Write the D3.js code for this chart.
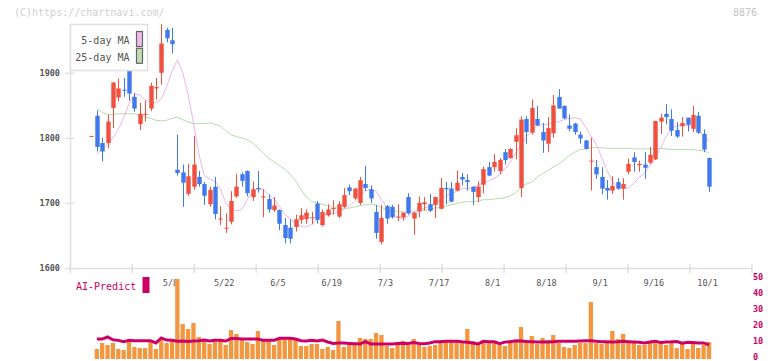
<!DOCTYPE html>
<html><head><meta charset="utf-8">
<script src="https://cdn.jsdelivr.net/npm/d3@7"></script>
<style>body{margin:0;background:#fff}svg{display:block}</style>
</head><body>
<script>
// ---- data ----
const openP  = [1802,1834,1792,1792,1846,1862,1874,1909,1863,1821,1836,1845,1876,1900,1966,1950,1751,1747,1714,1725,1740,1729,1698,1725,1675,1661,1671,1710,1744,1749,1709,1723,1709,1706,1689,1689,1666,1662,1663,1674,1675,1677,1699,1666,1681,1691,1679,1694,1724,1707,1700,1729,1721,1686,1640,1695,1694,1678,1678,1709,1676,1687,1698,1698,1697,1691,1723,1722,1719,1740,1735,1725,1709,1728,1755,1755,1749,1778,1769,1794,1723,1829,1808,1829,1809,1791,1807,1863,1849,1819,1822,1805,1796,1764,1755,1740,1723,1719,1732,1722,1748,1770,1758,1759,1762,1767,1825,1837,1829,1812,1818,1831,1814,1834,1806,1769];
const highP  = [1803,1842,1800,1836,1886,1891,1892,1913,1869,1854,1857,1885,1892,1975,1969,1969,1805,1759,1760,1803,1749,1732,1725,1740,1695,1684,1718,1745,1747,1750,1733,1749,1721,1713,1709,1690,1677,1675,1682,1692,1690,1686,1703,1690,1698,1704,1703,1723,1728,1723,1740,1757,1727,1697,1697,1697,1697,1698,1685,1715,1686,1710,1709,1714,1710,1738,1732,1732,1750,1746,1744,1725,1733,1756,1763,1775,1769,1783,1784,1815,1833,1833,1859,1849,1823,1832,1866,1875,1850,1836,1823,1810,1797,1800,1766,1755,1735,1741,1738,1738,1768,1778,1765,1778,1786,1826,1837,1852,1844,1824,1832,1831,1849,1840,1813,1770];
const lowP   = [1802,1779,1764,1784,1815,1856,1863,1857,1840,1812,1825,1841,1859,1882,1947,1930,1742,1694,1711,1720,1725,1697,1694,1675,1666,1654,1667,1708,1725,1710,1703,1716,1678,1685,1686,1658,1638,1638,1656,1668,1668,1667,1668,1664,1679,1682,1677,1692,1712,1705,1697,1718,1700,1645,1636,1668,1676,1672,1673,1682,1651,1678,1688,1686,1677,1690,1698,1701,1718,1727,1719,1697,1701,1715,1741,1748,1744,1759,1768,1767,1709,1791,1805,1818,1777,1778,1800,1845,1829,1810,1805,1791,1782,1719,1737,1713,1705,1714,1720,1705,1744,1748,1748,1737,1760,1766,1806,1821,1803,1800,1802,1810,1809,1806,1778,1717];
const closeP = [1803,1786,1779,1825,1885,1876,1873,1868,1845,1837,1837,1880,1878,1945,1953,1944,1746,1731,1741,1759,1729,1711,1720,1683,1676,1662,1703,1725,1734,1715,1721,1721,1710,1690,1696,1668,1646,1645,1675,1681,1685,1678,1674,1686,1690,1692,1698,1712,1718,1722,1735,1723,1707,1654,1677,1676,1678,1679,1685,1684,1685,1700,1701,1688,1709,1723,1721,1702,1731,1736,1732,1717,1725,1752,1742,1763,1766,1766,1783,1804,1828,1809,1846,1819,1796,1815,1850,1845,1830,1814,1809,1799,1783,1765,1744,1722,1719,1726,1722,1729,1760,1763,1760,1754,1774,1826,1831,1832,1811,1802,1823,1820,1835,1808,1782,1725];
const ma5 = [null,1775,1783,1790,1800,1813,1831,1853,1867,1866,1858,1855,1854,1860,1879,1902,1920,1900,1866,1823,1775,1742,1737,1733,1722,1700,1690,1688,1690,1705,1718,1722,1721,1713,1706,1695,1682,1676,1668,1664,1663,1667,1675,1681,1683,1684,1687,1690,1695,1702,1710,1719,1721,1718,1705,1693,1683,1678,1676,1680,1686,1689,1692,1695,1700,1705,1711,1714,1718,1722,1722,1724,1727,1731,1734,1738,1743,1752,1763,1777,1789,1802,1810,1819,1820,1821,1823,1825,1828,1830,1831,1829,1817,1803,1790,1770,1750,1733,1724,1722,1723,1730,1739,1746,1757,1769,1785,1802,1815,1818,1820,1819,1815,1810,1804,1795];
const ma25 = [null,1845,1839,1836,1836,1837,1837,1837,1837,1835,1832,1830,1827,1826,1827,1830,1832,1828,1824,1822,1822,1822,1823,1821,1818,1811,1805,1802,1800,1797,1792,1785,1776,1769,1763,1757,1752,1744,1734,1721,1709,1702,1700,1698,1696,1693,1692,1691,1692,1694,1696,1697,1698,1696,1693,1690,1688,1687,1686,1686,1687,1688,1689,1690,1692,1693,1695,1697,1699,1701,1702,1702,1703,1705,1705,1706,1707,1708,1711,1716,1724,1729,1732,1740,1745,1750,1755,1760,1766,1773,1778,1782,1783,1785,1785,1785,1784,1784,1784,1784,1784,1783,1783,1783,1783,1783,1784,1783,1782,1782,1782,1782,1782,1781,1780,1777];
const volume = [null,100,160,140,160,100,90,180,120,110,110,170,100,190,160,200,800,350,300,360,220,190,150,170,180,140,290,250,190,170,150,280,200,190,140,210,210,220,200,130,130,150,150,100,120,90,380,120,140,140,210,200,200,260,240,130,110,140,180,140,200,140,120,130,140,190,190,170,170,170,300,180,140,190,170,160,140,130,160,180,320,190,230,150,210,190,240,160,120,110,140,160,160,570,160,150,160,280,200,250,170,170,140,140,170,170,160,140,160,110,160,100,160,110,140,170];
const aiPredict = [null,11.2,11.2,12.5,10.8,10.4,9.6,10.4,10.2,10.2,10.2,10.2,8.8,11.9,10.6,10.4,9.8,10.0,9.7,10.0,10.2,10.6,10.0,10.5,10.4,10.0,11.5,11.5,11.2,11.2,11.2,11.2,10.4,10.4,10.4,11.7,11.7,11.7,11.2,10.2,10.0,10.4,10.0,10.6,9.4,8.5,8.7,8.7,8.5,8.3,8.1,9.6,8.2,8.2,8.2,8.2,8.2,8.4,8.6,8.5,9.0,8.5,8.3,8.8,9.6,9.6,9.8,9.8,9.9,9.5,9.2,8.7,8.2,9.8,9.6,9.5,8.3,9.3,9.6,10.2,10.0,9.7,9.6,9.4,9.4,9.4,9.6,9.8,9.8,9.8,9.8,10.0,10.2,10.2,9.8,9.6,9.5,9.4,9.5,9.8,9.6,9.4,9.2,8.8,9.4,9.9,9.0,9.4,9.5,9.7,8.6,9.2,9.0,8.8,8.8,7.6];
const dateLabels = ["5/8","5/22","6/5","6/19","7/3","7/17","8/1","8/18","9/1","9/16","10/1"];
const dateLabelIdx = [15,25,35,45,55,65,75,85,95,105,115];
const priceTicks = [1600,1700,1800,1900];
const aiTicks = [0,10,20,30,40,50];

// ---- chart ----
const W=772,H=361;
const svg=d3.select("body").append("svg").attr("width",W).attr("height",H);
const mono="'DejaVu Sans Mono','Liberation Mono',monospace";
const UP="#f0503f", DOWN="#4079ee";

const x=d3.scaleLinear().domain([-4,123]).range([70,752]);
const y=d3.scaleLinear().domain([1600,1975]).range([268,24]);
const yv=d3.scaleLinear().domain([0,800]).range([359,279]);
const ya=d3.scaleLinear().domain([0,50]).range([357,277]);
const xDiv=d3.scaleLinear().domain([0,11]).range([70.3,752]);

// watermark
svg.append("text").attr("x",14).attr("y",16).attr("font-family",mono).attr("font-size",10)
  .attr("fill","#cfcfcf").text("(C)https://chartnavi.com/");
svg.append("text").attr("x",757).attr("y",16).attr("text-anchor","end").attr("font-family",mono)
  .attr("font-size",10).attr("fill","#c4c4c4").text("8876");

// axes
const axisC="#e0e0e0";
svg.append("line").attr("x1",70.5).attr("x2",70.5).attr("y1",24).attr("y2",268).attr("stroke",axisC).attr("stroke-width",1.5);
svg.append("line").attr("x1",70).attr("x2",752).attr("y1",268.5).attr("y2",268.5).attr("stroke",axisC).attr("stroke-width",1.5);
svg.selectAll(".xt").data(d3.range(12)).join("line")
  .attr("x1",d=>xDiv(d)).attr("x2",d=>xDiv(d)).attr("y1",264).attr("y2",273)
  .attr("stroke",axisC).attr("stroke-width",1.5);
svg.selectAll(".yt").data(priceTicks).join("line")
  .attr("x1",65).attr("x2",74).attr("y1",d=>y(d)+0.5).attr("y2",d=>y(d)+0.5)
  .attr("stroke",axisC).attr("stroke-width",1.5);
svg.selectAll(".yl").data(priceTicks).join("text")
  .attr("x",60).attr("y",d=>y(d)).attr("dy","0.35em").attr("text-anchor","end")
  .attr("font-family",mono).attr("font-size",8.5).attr("font-weight","bold").attr("fill","#555")
  .text(d=>d);
svg.selectAll(".xl").data(dateLabels).join("text")
  .attr("x",(d,i)=>x(dateLabelIdx[i])-1.5).attr("y",286).attr("text-anchor","middle")
  .attr("font-family",mono).attr("font-size",8.5).attr("fill","#555").text(d=>d);

// MA lines
const idx=d3.range(openP.length);
const lineMA=arr=>d3.line().defined(i=>arr[i]!=null).x(i=>x(i)).y(i=>y(arr[i]));
svg.append("path").datum(idx).attr("d",lineMA(ma25)).attr("fill","none").attr("stroke","#b6dcaa").attr("stroke-width",1);
svg.append("path").datum(idx).attr("d",lineMA(ma5)).attr("fill","none").attr("stroke","#eab6ea").attr("stroke-width",1);

// candles
const bw=4.4;
const cg=svg.append("g");
idx.forEach(i=>{
  const up=closeP[i]>=openP[i], col=up?UP:DOWN;
  const cx=Math.round(x(i))+0.5;
  cg.append("line").attr("x1",cx).attr("x2",cx).attr("y1",y(highP[i])).attr("y2",y(lowP[i])).attr("stroke",col).attr("stroke-width",1);
  const top=y(Math.max(openP[i],closeP[i])), bot=y(Math.min(openP[i],closeP[i]));
  cg.append("rect").attr("x",cx-bw/2).attr("y",top).attr("width",bw).attr("height",Math.max(1,bot-top)).attr("fill",col);
});

// legend
const lg=svg.append("g");
lg.append("rect").attr("x",70.5).attr("y",24.5).attr("width",77).attr("height",46).attr("fill","#fff").attr("stroke","#e0e0e0").attr("stroke-width",1.5);
const legItems=[["5-day MA","#ecbcec",44],["25-day MA","#bcdeb2",61]];
legItems.forEach(([t,c,yy],k)=>{
  lg.append("text").attr("x",129.5).attr("y",yy).attr("text-anchor","end").attr("font-family",mono).attr("font-size",10).attr("fill","#555").text(t);
  lg.append("rect").attr("x",136.5).attr("y",31.5+k*16.8).attr("width",6).attr("height",15).attr("fill",c).attr("stroke","#666").attr("stroke-width",1.2);
});

// volume panel
svg.append("g").selectAll("rect").data(idx.filter(i=>volume[i]!=null)).join("rect")
  .attr("x",i=>x(i)-2.2).attr("width",4.3).attr("y",i=>yv(volume[i])).attr("height",i=>yv(0)-yv(volume[i]))
  .attr("fill","#f2973f");
svg.append("path").datum(idx).attr("d",d3.line().defined(i=>aiPredict[i]!=null).x(i=>x(i)).y(i=>ya(aiPredict[i])))
  .attr("fill","none").attr("stroke","#cc0066").attr("stroke-width",3);
svg.selectAll(".al").data(aiTicks).join("text")
  .attr("x",753).attr("y",d=>ya(d)).attr("dy","0.35em").attr("font-family",mono).attr("font-size",8.5)
  .attr("font-weight","bold").attr("fill","#cc0066").text(d=>d);
svg.append("text").attr("x",76).attr("y",290).attr("font-family",mono).attr("font-size",10).attr("fill","#cc0066").text("AI-Predict");
svg.append("rect").attr("x",142.5).attr("y",277).attr("width",7).attr("height",16).attr("fill","#cc0066");
</script>
</body></html>
